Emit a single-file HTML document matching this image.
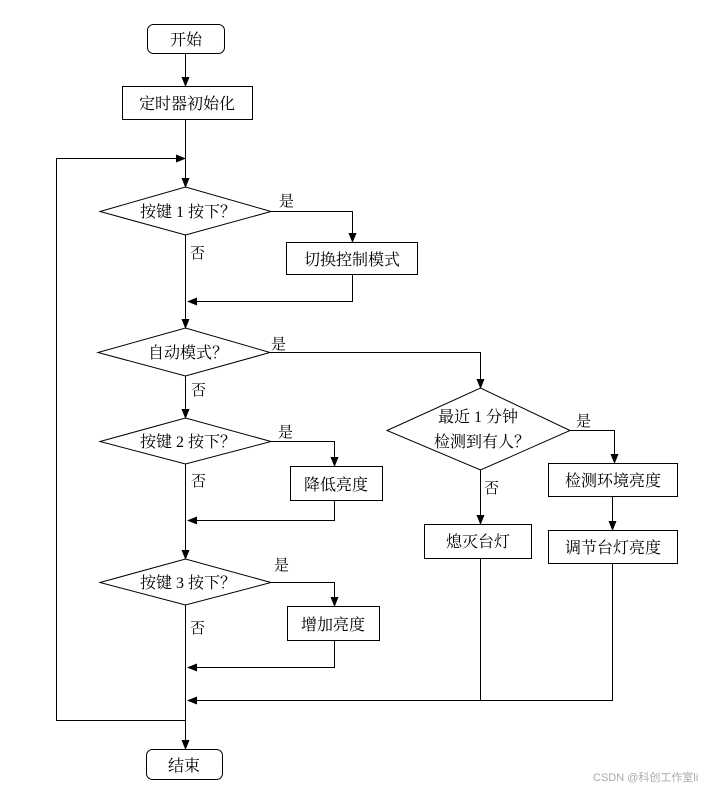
<!DOCTYPE html>
<html><head><meta charset="utf-8"><style>
html,body{margin:0;padding:0;background:#fff;}
svg text{font-family:"Liberation Serif","Noto Serif CJK SC","Noto Sans CJK SC",serif;font-size:16px;fill:#000;}
</style></head><body>
<svg width="723" height="789" viewBox="0 0 723 789" xmlns="http://www.w3.org/2000/svg">
<defs><marker id="a" markerWidth="10" markerHeight="10" refX="9" refY="5" orient="auto" markerUnits="userSpaceOnUse"><path d="M0,1 L10,5 L0,9 z" fill="#000"/></marker></defs>
<g stroke="#000" stroke-width="1" fill="none">
<rect x="147.5" y="24.5" width="77" height="29" rx="6" fill="#fff"/>
<rect x="122.5" y="86.5" width="130" height="33"/>
<line x1="185.5" y1="53" x2="185.5" y2="86" marker-end="url(#a)"/>
<line x1="185.5" y1="119" x2="185.5" y2="187" marker-end="url(#a)"/>
<polyline points="185.5,720.5 56.5,720.5 56.5,158.5 185,158.5" marker-end="url(#a)"/>
<polygon points="100,211.5 185.5,187 271,211.5 185.5,235"/>
<polyline points="271,211.5 352.5,211.5 352.5,242" marker-end="url(#a)"/>
<rect x="286.5" y="242.5" width="131" height="32"/>
<polyline points="352.5,275 352.5,301.5 188,301.5" marker-end="url(#a)"/>
<line x1="185.5" y1="235" x2="185.5" y2="328" marker-end="url(#a)"/>
<polygon points="98,352.5 185.5,328 270,352.5 185.5,376"/>
<polyline points="270,352.5 480.5,352.5 480.5,388" marker-end="url(#a)"/>
<line x1="185.5" y1="376" x2="185.5" y2="418" marker-end="url(#a)"/>
<polygon points="100,441.5 185.5,418 271,441.5 185.5,464"/>
<polyline points="271,441.5 334.5,441.5 334.5,466" marker-end="url(#a)"/>
<rect x="290.5" y="466.5" width="92" height="34"/>
<polyline points="334.5,501 334.5,520.5 188,520.5" marker-end="url(#a)"/>
<line x1="185.5" y1="464" x2="185.5" y2="559" marker-end="url(#a)"/>
<polygon points="100,582.5 185.5,559 271,582.5 185.5,605"/>
<polyline points="271,582.5 334.5,582.5 334.5,606" marker-end="url(#a)"/>
<rect x="287.5" y="606.5" width="92" height="34"/>
<polyline points="334.5,641 334.5,667.5 188,667.5" marker-end="url(#a)"/>
<line x1="185.5" y1="605" x2="185.5" y2="749" marker-end="url(#a)"/>
<rect x="146.5" y="749.5" width="76" height="30" rx="6" fill="#fff"/>
<polygon points="387,430.5 480.5,388 570,430.5 480.5,470"/>
<polyline points="570,430.5 614.5,430.5 614.5,463" marker-end="url(#a)"/>
<rect x="548.5" y="463.5" width="129" height="33"/>
<line x1="612.5" y1="497" x2="612.5" y2="530" marker-end="url(#a)"/>
<rect x="548.5" y="530.5" width="129" height="33"/>
<line x1="480.5" y1="470" x2="480.5" y2="524" marker-end="url(#a)"/>
<rect x="424.5" y="524.5" width="107" height="34"/>
<line x1="480.5" y1="558" x2="480.5" y2="700.5"/>
<polyline points="612.5,564 612.5,700.5 188,700.5" marker-end="url(#a)"/>
</g>
<g text-anchor="middle">
<text x="186" y="45">开始</text>
<text x="187" y="109">定时器初始化</text>
<text x="188" y="217">按键 1 按下？</text>
<text x="352" y="265">切换控制模式</text>
<text x="188" y="358">自动模式？</text>
<text x="188" y="447">按键 2 按下？</text>
<text x="336" y="490">降低亮度</text>
<text x="188" y="588">按键 3 按下？</text>
<text x="333" y="630">增加亮度</text>
<text x="184" y="771">结束</text>
<text x="478" y="422">最近 1 分钟</text>
<text x="482" y="447">检测到有人？</text>
<text x="613" y="486">检测环境亮度</text>
<text x="613" y="553">调节台灯亮度</text>
<text x="478" y="547">熄灭台灯</text>
</g>
<g font-size="15">
<text x="279" y="206" style="font-size:15px">是</text>
<text x="190" y="258" style="font-size:15px">否</text>
<text x="271" y="349" style="font-size:15px">是</text>
<text x="191" y="395" style="font-size:15px">否</text>
<text x="278" y="437" style="font-size:15px">是</text>
<text x="191" y="486" style="font-size:15px">否</text>
<text x="274" y="570" style="font-size:15px">是</text>
<text x="190" y="633" style="font-size:15px">否</text>
<text x="576" y="426" style="font-size:15px">是</text>
<text x="484" y="493" style="font-size:15px">否</text>
</g>
<text x="593" y="781" style="font-family:'Liberation Sans','Noto Sans CJK SC',sans-serif;font-size:11px;fill:#aaa">CSDN @科创工作室li</text>
</svg>
</body></html>
